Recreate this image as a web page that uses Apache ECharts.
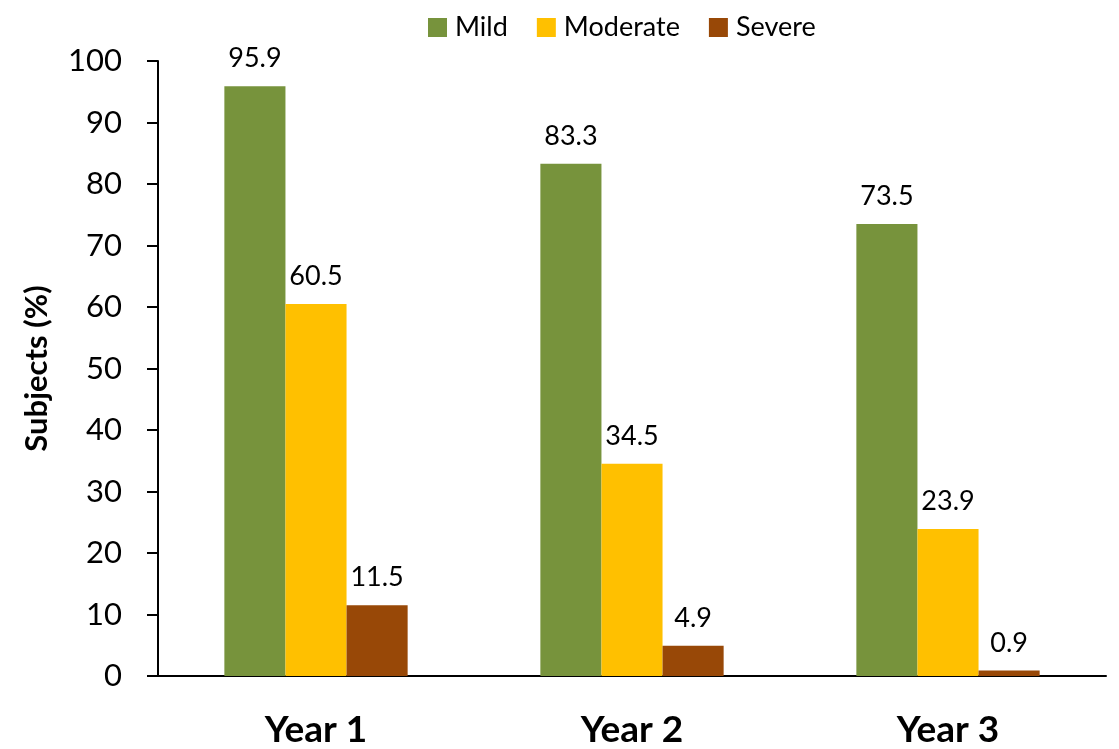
<!DOCTYPE html>
<html>
<head>
<meta charset="utf-8">
<script src="https://cdn.jsdelivr.net/npm/echarts@6/dist/echarts.min.js"></script>
<style>
  html, body { margin: 0; padding: 0; background: #fff; }
  #chart { width: 1119px; height: 749px; }
</style>
</head>
<body>
<div id="chart"></div>
<script>
const categories = ['Year 1', 'Year 2', 'Year 3'];
const mild = [95.9, 83.3, 73.5];
const moderate = [60.5, 34.5, 23.9];
const severe = [11.5, 4.9, 0.9];
const seriesNames = ['Mild', 'Moderate', 'Severe'];
const colors = ['#77933C', '#FFC000', '#984807'];

const FONT = 'Lato, "Open Sans", sans-serif';
const chart = echarts.init(document.getElementById('chart'));

const makeSeries = (name, data, color) => ({
  name,
  type: 'bar',
  data,
  barGap: '0%',
  barCategoryGap: '42%',
  itemStyle: { color },
  label: {
    show: true,
    position: 'top',
    distance: 14,
    color: '#000',
    fontSize: 27,
    fontFamily: FONT,
    formatter: p => p.value.toFixed(1)
  }
});

chart.setOption({
  animation: false,
  textStyle: { fontFamily: FONT },
  legend: {
    top: 9,
    left: 423,
    itemWidth: 19,
    itemHeight: 19,
    itemGap: 29,
    icon: 'rect',
    textStyle: { fontSize: 27, color: '#000', fontFamily: FONT, padding: [0, 0, 0, 3] },
    data: seriesNames
  },
  grid: { left: 158, right: 13, top: 61, bottom: 72 },
  xAxis: {
    type: 'category',
    data: categories,
    axisLine: { lineStyle: { color: '#000', width: 2 } },
    axisTick: { show: false },
    axisLabel: { fontSize: 37, fontWeight: 'bold', color: '#000', margin: 36, fontFamily: FONT }
  },
  yAxis: {
    type: 'value',
    min: 0,
    max: 100,
    interval: 10,
    name: 'Subjects (%)',
    nameLocation: 'middle',
    nameGap: 106,
    nameRotate: 90,
    nameTextStyle: { fontSize: 31, fontWeight: 'bold', color: '#000', fontFamily: FONT },
    axisLine: { show: true, lineStyle: { color: '#000', width: 2 } },
    axisTick: { show: true, length: 11, lineStyle: { color: '#000', width: 2 } },
    axisLabel: { fontSize: 31, color: '#000', margin: 36, fontFamily: FONT },
    splitLine: { show: false }
  },
  series: [
    makeSeries(seriesNames[0], mild, colors[0]),
    makeSeries(seriesNames[1], moderate, colors[1]),
    makeSeries(seriesNames[2], severe, colors[2])
  ]
});
</script>
</body>
</html>
